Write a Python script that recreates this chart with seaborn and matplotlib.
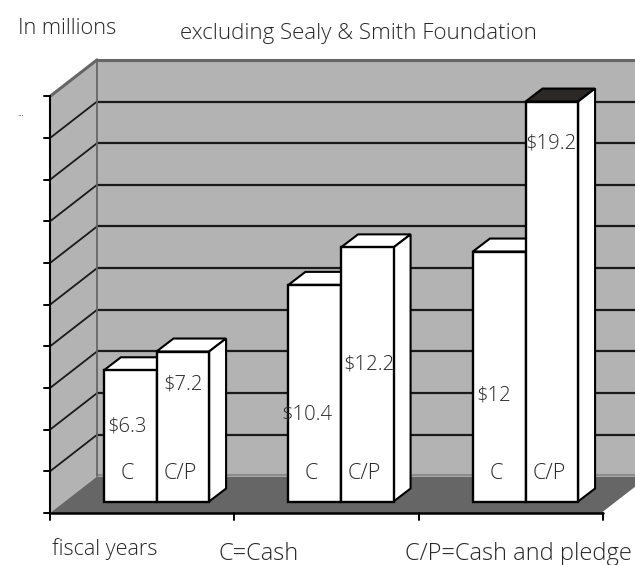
import matplotlib
matplotlib.use("Agg")
import matplotlib.pyplot as plt
import pandas as pd
import seaborn as sns
from matplotlib.patches import Polygon

years = ["first", "second", "third"]
kinds = ["C", "C/P"]
cash = [6.3, 10.4, 12]
cash_pledge = [7.2, 12.2, 19.2]
value_labels = ["$6.3", "$7.2", "$10.4", "$12.2", "$12", "$19.2"]
ticks = list(range(0, 22, 2))

df = pd.DataFrame({
    "year": years * 2,
    "kind": ["C"] * 3 + ["C/P"] * 3,
    "value": cash + cash_pledge,
})

sns.set_theme(style="white")
plt.rcParams["font.family"] = ["Open Sans", "DejaVu Sans"]

W, H = 635, 565
fig = plt.figure(figsize=(W / 100, H / 100), dpi=100)
ax = fig.add_axes([0, 0, 1, 1])

sns.barplot(data=df, x="year", y="value", hue="kind", order=years, hue_order=kinds,
            width=0.57, gap=0, dodge=True, legend=False, palette=["white", "white"],
            edgecolor="black", linewidth=1.7, saturation=1, ax=ax)
bars = sorted(ax.patches, key=lambda p: p.get_x())

# 184.5 px per category, 20.83 px per unit
ax.set_xlim(-156.5 / 184.5, 478.5 / 184.5)
ax.set_ylim((501.5 - H) / 20.83, 501.5 / 20.83)
ax.axis("off")

x0, x1 = -0.577, 2.42
floor = -0.55
wall_dx, wall_dy = 47 / 184.5, 36.5 / 20.83
bar_dx, bar_dy = 17 / 184.5, 13 / 20.83
top_val = ticks[-1]
GRAY = "#b3b3b3"
EDGE = "#666666"

# walls and floor
ax.add_patch(Polygon([(x0 + wall_dx, floor + wall_dy), (x1 + wall_dx, floor + wall_dy),
                      (x1 + wall_dx, floor + wall_dy + top_val), (x0 + wall_dx, floor + wall_dy + top_val)],
                     fc=GRAY, ec="none", zorder=0))
ax.add_patch(Polygon([(x0, floor), (x0 + wall_dx, floor + wall_dy),
                      (x0 + wall_dx, floor + wall_dy + top_val), (x0, floor + top_val)],
                     fc=GRAY, ec="none", zorder=0))
ax.add_patch(Polygon([(x0, floor), (x1, floor), (x1 + wall_dx, floor + wall_dy), (x0 + wall_dx, floor + wall_dy)],
                     fc="#666666", ec="none", zorder=0.5))
ax.plot([x0 + wall_dx, x1 + wall_dx], [floor + wall_dy + 0.05] * 2, color="#8c8c8c", lw=1.5, zorder=0.6)
ax.plot([x1, x1 + wall_dx], [floor, floor + wall_dy], color="white", lw=1.5, zorder=0.6)

# grid lines on the walls, ticks on the front edge
for v in ticks[1:-1]:
    ax.plot([x0 + wall_dx, x1 + wall_dx], [floor + wall_dy + v] * 2, color="#1a1a1a", lw=1.6, zorder=1)
    ax.plot([x0, x0 + wall_dx], [floor + v, floor + wall_dy + v], color="#1a1a1a", lw=1.3, zorder=1)
ax.plot([x0 + wall_dx, x1 + wall_dx], [floor + wall_dy + top_val] * 2, color=EDGE, lw=2.2, zorder=1)
ax.plot([x0, x0 + wall_dx], [floor + top_val, floor + wall_dy + top_val], color=EDGE, lw=2.2, zorder=1)
ax.plot([x0 + wall_dx] * 2, [floor + wall_dy, floor + wall_dy + top_val], color=EDGE, lw=1.3, zorder=1)

ax.plot([x0, x0], [floor, floor + top_val], color="black", lw=1.5, zorder=1.5)
ax.plot([x0, x1], [floor, floor], color="black", lw=1.8, zorder=1.5)
for v in ticks:
    ax.plot([x0 - 6 / 184.5, x0], [floor + v] * 2, color="black", lw=1.4, zorder=1.5)
for i in range(4):
    xt = x0 + (x1 - x0) * i / 3
    ax.plot([xt, xt], [floor, floor - 7 / 20.83], color="black", lw=1.4, zorder=1.5)

# 3d depth of the bars
for i, b in enumerate(bars):
    x, w, h = b.get_x(), b.get_width(), b.get_height()
    b.set_zorder(4)
    top_col = "#2b2825" if i == len(bars) - 1 else "white"
    ax.add_patch(Polygon([(x, h), (x + w, h), (x + w + bar_dx, h + bar_dy), (x + bar_dx, h + bar_dy)],
                         fc=top_col, ec="black", lw=1.5, zorder=3))
    ax.add_patch(Polygon([(x + w, 0), (x + w + bar_dx, bar_dy), (x + w + bar_dx, h + bar_dy), (x + w, h)],
                         fc="white", ec="black", lw=1.5, zorder=3))

# labels inside the bars
label_y = [3.6, 5.6, 4.2, 6.6, 5.1, 17.2]
label_off = [-3, 0, -8, 2, -5, -1]
for b, txt, ly, off, k in zip(bars, value_labels, label_y, label_off, ["C", "C/P"] * 3):
    xc = b.get_x() + b.get_width() / 2
    ax.text(xc + off / 184.5, ly, txt, ha="center", va="center", fontsize=14.6, fontweight="light",
            color="#262626", zorder=5)
    ax.text(xc - 3 / 184.5, 1.35, k, ha="center", va="center", fontsize=15.5, fontweight="light",
            color="#262626", zorder=5)


def label(x, y, s, size=15, ha="left"):
    fig.text(x / W, 1 - y / H, s, fontsize=size, ha=ha, va="center", color="#262626", fontweight="light")


label(18, 28, "In millions", size=15.7)
label(358, 33, "excluding Sealy & Smith Foundation", size=16, ha="center")
label(17, 113, "...", size=7)
label(52, 549, "fiscal years", size=15.6)
label(219, 554, "C=Cash", size=17)
label(405, 554, "C/P=Cash and pledge", size=17)

fig.savefig("out.png", dpi=100)
